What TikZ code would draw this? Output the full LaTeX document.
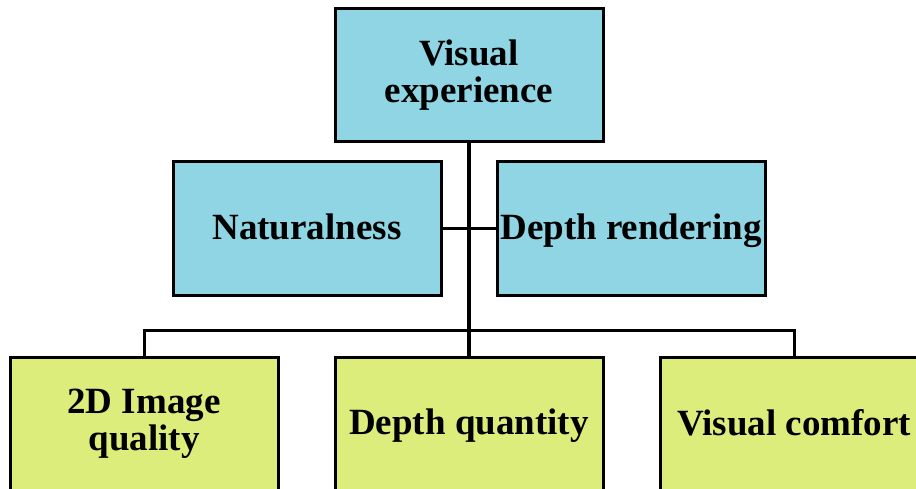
\documentclass[tikz,border=0pt]{standalone}
\usepackage{fontspec}
\setmainfont{Liberation Serif}

\definecolor{topblue}{RGB}{143,213,228}
\definecolor{leafgreen}{RGB}{221,237,123}

\begin{document}
\begin{tikzpicture}
[
	box/.style={draw,line width=3pt,minimum width=268pt,minimum height=133pt,inner sep=0pt,align=center,execute at begin node={\rule[-7pt]{0pt}{37pt}},font=\fontsize{37}{37}\selectfont\bfseries},
	upper/.style={box,fill=topblue},
	lower/.style={box,fill=leafgreen},
	x=1pt,
	y=-1pt
]

	% frame
	\clip (0,0) rectangle (916,489);

	% boxes
	\node[upper] (exp) at (469,75.5) {Visual\\experience};
	\node[upper] (nat) at (307,228.5) {Naturalness};
	\node[upper] (rend) at (631,228.5) {Depth rendering};

	\node[lower] (quality) at (144,423.5) {2D Image\\quality};
	\node[lower] (quantity) at (469,423.5) {Depth quantity};
	\node[lower] (comfort) at (794,423.5) {Visual comfort};

	% connectors
	\coordinate (bus) at (469,330);
	\draw[line width=3.5pt] (exp.south) -- (quantity.north);
	\draw[line width=2.5pt] (nat.east) -- (rend.west);
	\draw[line width=3pt]
	  (quality.north) |- (bus)
	  (bus) -| (comfort.north)
	;

\end{tikzpicture}
\end{document}
